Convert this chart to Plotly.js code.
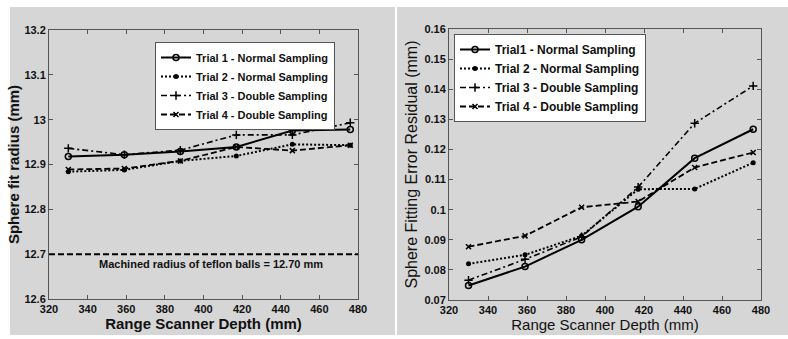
<!DOCTYPE html>
<html>
<head>
<meta charset="utf-8">
<script src="https://cdn.plot.ly/plotly-3.0.1.min.js"></script>
<style>html,body{margin:0;padding:0;background:#fff;}#chart{width:788px;height:339px;}</style>
</head>
<body>
<div id="chart"></div>
<script>
// ---- Data ----
const depth = [330, 359, 388, 417, 446, 476];

// Left panel: sphere fit radius (mm)
const radiusTrial1 = [12.918, 12.922, 12.929, 12.939, 12.976, 12.978];
const radiusTrial2 = [12.884, 12.888, 12.908, 12.919, 12.945, 12.943];
const radiusTrial3 = [12.936, 12.922, 12.932, 12.966, 12.966, 12.993];
const radiusTrial4 = [12.889, 12.891, 12.908, 12.939, 12.931, 12.943];
const machinedRadius = 12.70;
const machinedLabel = 'Machined radius of teflon balls = 12.70 mm';

// Right panel: sphere fitting error residual (mm)
const residTrial1 = [0.0748, 0.0811, 0.0900, 0.1010, 0.1171, 0.1267];
const residTrial2 = [0.0820, 0.0850, 0.0913, 0.1068, 0.1069, 0.1156];
const residTrial3 = [0.0766, 0.0835, 0.0910, 0.1075, 0.1287, 0.1411];
const residTrial4 = [0.0877, 0.0913, 0.1008, 0.1027, 0.1140, 0.1190];

const leftNames  = ['Trial 1 - Normal Sampling', 'Trial 2 - Normal Sampling', 'Trial 3 - Double Sampling', 'Trial 4 - Double Sampling'];
const rightNames = ['Trial1 - Normal Sampling', 'Trial 2 - Normal Sampling', 'Trial 3 - Double Sampling', 'Trial 4 - Double Sampling'];

const xTitle = 'Range Scanner Depth (mm)';
const leftYTitle = 'Sphere fit radius (mm)';
const rightYTitle = 'Sphere Fitting Error Residual (mm)';

// ---- Styles ----
const FONT = 'Liberation Sans, Arial, sans-serif';
const styles = [
  {dash: 'solid',            width: 2,   marker: {symbol: 'circle-open', size: 6, color: '#000', line: {width: 1.5, color: '#000'}}},
  {dash: '2px,2px',          width: 2,   marker: {symbol: 'circle', size: 5, color: '#000', line: {width: 0}}},
  {dash: '6px,3px,2px,3px',  width: 1.6, marker: {symbol: 'cross-thin-open', size: 6, color: '#000', line: {width: 1.5, color: '#000'}}},
  {dash: '6px,3px',          width: 1.8, marker: {symbol: 'x-thin-open', size: 5, color: '#000', line: {width: 1.5, color: '#000'}}}
];

const leftSeries = [radiusTrial1, radiusTrial2, radiusTrial3, radiusTrial4];
const rightSeries = [residTrial1, residTrial2, residTrial3, residTrial4];

const traces = [];
leftSeries.forEach((ys, i) => {
  traces.push({
    x: depth, y: ys, xaxis: 'x', yaxis: 'y', name: leftNames[i], legend: 'legend',
    mode: 'lines+markers', type: 'scatter',
    line: {color: '#000', dash: styles[i].dash, width: styles[i].width},
    marker: styles[i].marker
  });
});
rightSeries.forEach((ys, i) => {
  traces.push({
    x: depth, y: ys, xaxis: 'x2', yaxis: 'y2', name: rightNames[i], legend: 'legend2',
    mode: 'lines+markers', type: 'scatter',
    line: {color: '#000', dash: styles[i].dash, width: styles[i].width},
    marker: styles[i].marker
  });
});

const W = 788, H = 339;
const px = v => v / W;
const py = v => 1 - v / H;

const axisCommon = {
  showgrid: false, zeroline: false, showline: true, linecolor: '#555', linewidth: 1,
  mirror: 'ticks', ticks: 'inside', ticklen: 4, tickcolor: '#555', tickwidth: 1,
  automargin: false
};

const tickFontBold = {family: FONT, size: 11, color: '#111', weight: 'bold'};

const layout = {
  width: W, height: H,
  margin: {l: 0, r: 0, t: 0, b: 0, pad: 0},
  paper_bgcolor: '#ffffff',
  plot_bgcolor: '#ffffff',
  font: {family: FONT, color: '#111'},
  xaxis: Object.assign({}, axisCommon, {
    domain: [px(49), px(358)], range: [320, 480], dtick: 20, tick0: 320,
    tickfont: tickFontBold, anchor: 'y',
    title: {text: xTitle, font: {family: FONT, size: 15, weight: 'bold', color: '#111'}, standoff: 2}
  }),
  yaxis: Object.assign({}, axisCommon, {
    domain: [1 - 299 / H, 1 - 30 / H], range: [12.6, 13.2], dtick: 0.1, tick0: 12.6,
    tickfont: tickFontBold, anchor: 'x',
    title: {text: leftYTitle, font: {family: FONT, size: 15, weight: 'bold', color: '#111'}, standoff: 1}
  }),
  xaxis2: Object.assign({}, axisCommon, {
    domain: [px(449), px(761)], range: [320, 480], dtick: 20, tick0: 320,
    tickfont: tickFontBold, anchor: 'y2',
    title: {text: xTitle, font: {family: FONT, size: 15, color: '#111'}, standoff: 2}
  }),
  yaxis2: Object.assign({}, axisCommon, {
    domain: [1 - 300 / H, 1 - 29 / H], range: [0.07, 0.16], dtick: 0.01, tick0: 0.07,
    tickfont: tickFontBold, anchor: 'x2',
    title: {text: rightYTitle, font: {family: FONT, size: 16, color: '#111'}, standoff: 2}
  }),
  legend: {
    x: px(335), y: py(42), xanchor: 'right', yanchor: 'top',
    bgcolor: '#ffffff', bordercolor: '#555', borderwidth: 1,
    font: {family: FONT, size: 11, weight: 'bold', color: '#111'},
    tracegroupgap: 0
  },
  legend2: {
    x: px(454), y: py(34), xanchor: 'left', yanchor: 'top',
    bgcolor: '#ffffff', bordercolor: '#555', borderwidth: 1,
    font: {family: FONT, size: 12, weight: 'bold', color: '#111'},
    tracegroupgap: 0
  },
  shapes: [
    {type: 'rect', xref: 'paper', yref: 'paper', x0: px(10), x1: px(395), y0: 1 - 335 / H, y1: 1 - 7 / H,
     fillcolor: '#d6d6d6', line: {width: 0}, layer: 'below'},
    {type: 'rect', xref: 'paper', yref: 'paper', x0: px(397), x1: 1, y0: 1 - 335 / H, y1: 1 - 7 / H,
     fillcolor: '#d6d6d6', line: {width: 0}, layer: 'below'},
    {type: 'line', xref: 'x domain', yref: 'y', x0: 0, x1: 1, y0: machinedRadius, y1: machinedRadius,
     line: {color: '#000', width: 2, dash: '6px,3px'}}
  ],
  annotations: [
    {xref: 'x', yref: 'y', x: 404, y: machinedRadius, yshift: -10, showarrow: false,
     text: machinedLabel, font: {family: FONT, size: 11, weight: 'bold', color: '#111'}}
  ],
  showlegend: true
};

Plotly.newPlot('chart', traces, layout, {staticPlot: true, displayModeBar: false});
</script>
</body>
</html>
